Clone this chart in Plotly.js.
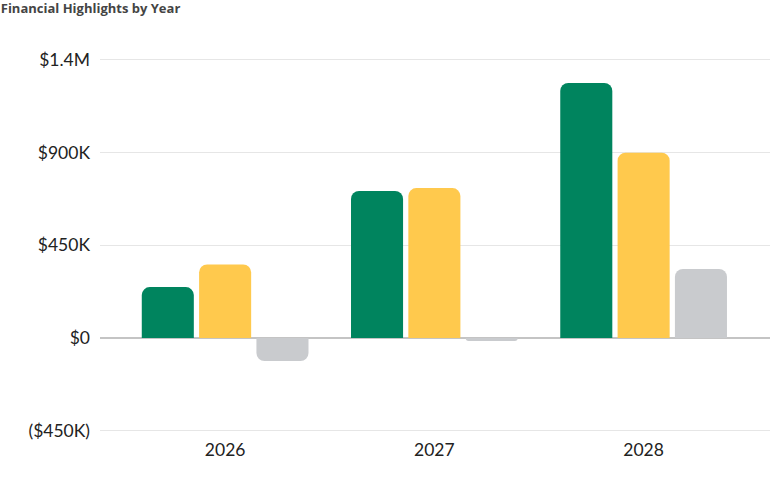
<!DOCTYPE html>
<html>
<head>
<meta charset="utf-8">
<script src="https://cdn.plot.ly/plotly-3.0.1.min.js"></script>
<style>html,body{margin:0;padding:0;background:#fff;}#chart{width:770px;height:477px;}</style>
</head>
<body>
<div id="chart"></div>
<script>
const years = ['2026', '2027', '2028'];
const revenue = [247000, 713000, 1237000];
const grossProfit = [357000, 727000, 899000];
const netIncome = [-112000, -15000, 335000];
const tickVals = [-450000, 0, 450000, 900000, 1350000];
const tickText = ['($450K)', '$0', '$450K', '$900K', '$1.4M'];
const seriesNames = ['Revenue', 'Gross Profit', 'Net Income'];
const colors = ['#00845E', '#FFC94D', '#C9CBCE'];

const series = [revenue, grossProfit, netIncome];
const traces = series.map((vals, i) => ({
  type: 'bar',
  x: years,
  y: vals,
  name: seriesNames[i],
  marker: { color: colors[i], cornerradius: 8 },
  hoverinfo: 'skip'
}));

const layout = {
  width: 770,
  height: 477,
  margin: { l: 100, r: 0, t: 39, b: 40 },
  paper_bgcolor: '#ffffff',
  plot_bgcolor: '#ffffff',
  font: { family: 'Lato, "Open Sans", sans-serif', color: '#222' },
  title: {
    text: '<b>Financial Highlights by Year</b>',
    font: { size: 13, color: '#444', family: '"Open Sans", Lato, sans-serif' },
    xref: 'container', x: 0.001, xanchor: 'left',
    yref: 'container', y: 0.983, yanchor: 'middle'
  },
  showlegend: false,
  barmode: 'group',
  bargap: 0.178,
  bargroupgap: 0.092,
  xaxis: {
    type: 'category',
    range: [-0.598, 2.604],
    showgrid: false,
    showline: false,
    ticks: '',
    tickfont: { size: 17.5, color: '#222' },
    fixedrange: true
  },
  yaxis: {
    range: [-480000, 1450000],
    tickvals: tickVals,
    ticktext: tickText,
    showgrid: true,
    gridcolor: '#e6e6e6',
    gridwidth: 1,
    zeroline: true,
    zerolinecolor: '#c4c4c4',
    zerolinewidth: 1.5,
    showline: false,
    ticks: '',
    ticklabelstandoff: 9,
    tickfont: { size: 17.5, color: '#222' },
    fixedrange: true
  }
};

Plotly.newPlot('chart', traces, layout, { displayModeBar: false, staticPlot: true });
</script>
</body>
</html>
